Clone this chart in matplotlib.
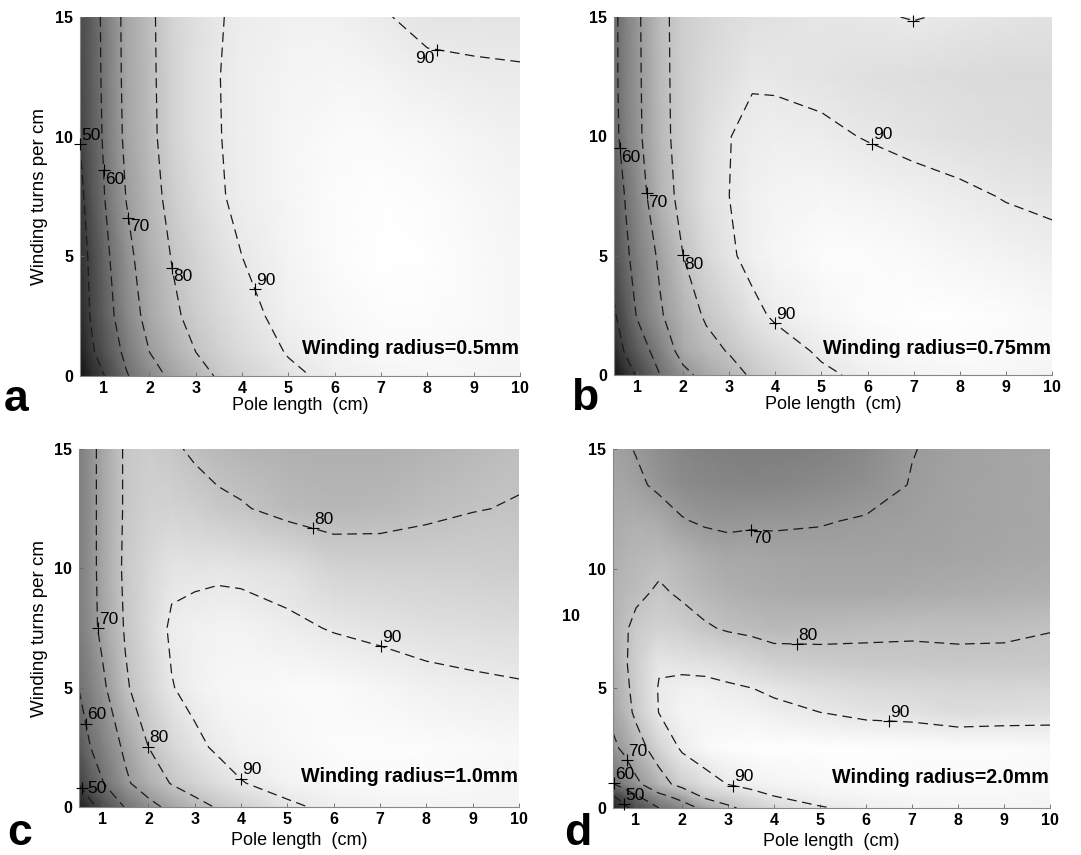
import matplotlib
matplotlib.use('Agg')
import matplotlib.pyplot as plt
import numpy as np
from matplotlib.colors import PowerNorm
from matplotlib.transforms import offset_copy, blended_transform_factory

plt.rcParams['font.family'] = ['Liberation Sans', 'DejaVu Sans']
plt.rcParams['font.weight'] = 'bold'
plt.rcParams['lines.scale_dashes'] = False

# grid of the efficiency maps (%)
pole = [0.5, 0.75, 1, 1.5, 2, 2.5, 3, 3.5, 4, 5, 6, 7, 8, 9, 10]
turns = [0, 1, 2.5, 5, 7.5, 10, 12.5, 15]
turns_d = [0, 0.5, 1, 2.5, 4, 5, 6, 7.5, 9, 10.5, 12, 13.5, 15]

eff_a = [
    [42, 46, 49.5, 59.3, 66, 72, 76.5, 81, 84, 88.7, 91.5, 93, 93.5, 93.5, 93],
    [44, 49, 53, 62, 70, 75.5, 80, 83.5, 86.3, 90.4, 93, 94.5, 94.5, 94, 93.5],
    [46, 50.7, 55.5, 65, 73, 78.5, 82.5, 85.5, 88, 92, 94, 95, 95, 94.5, 93.5],
    [47, 51.5, 57, 67.5, 75, 80.5, 84.5, 87.5, 90, 93, 95, 95.8, 95.5, 94.5, 93.5],
    [48, 54, 59.3, 70.3, 77, 82.5, 86.5, 89.5, 91.2, 93.5, 95, 95.5, 95, 94, 93],
    [50.3, 55.5, 60.5, 72, 78, 84, 87.8, 89.8, 91.5, 93.5, 94.5, 94.5, 94, 93, 92],
    [51.5, 56, 61, 72.5, 78.3, 84.2, 87.8, 89.9, 91.5, 93, 93.5, 93, 91.4, 90.8, 90.5],
    [52, 56, 61.3, 72.7, 78.5, 84.3, 87.5, 89.7, 91, 92, 92, 90.5, 88.5, 88.5, 88.5],
]
eff_b = [
    [42, 46.5, 50.6, 60, 67.5, 73, 77, 81, 84, 88.8, 91.5, 93, 93.5, 93.5, 93],
    [46, 50.7, 55.5, 63.5, 73.5, 77.5, 80.5, 84, 86.8, 91, 93.5, 94.5, 95, 94.5, 94],
    [49, 54.5, 60.5, 69, 76, 81, 84.5, 88.2, 91, 93.5, 95, 95.5, 95.5, 95, 94],
    [52.5, 58.5, 63, 71.5, 80, 85.5, 89, 92, 93.5, 95, 95, 94.5, 93.5, 92.5, 91.5],
    [54.5, 60.5, 65.5, 76, 82.5, 87.5, 90, 92, 93, 93.5, 93, 92, 91, 89.7, 89],
    [57.5, 63.5, 68, 77.5, 83, 87, 89.9, 91, 91.5, 91, 89.7, 88.5, 87.5, 87, 86.5],
    [58, 64, 68.3, 77.8, 83, 86, 87.5, 89.6, 89.3, 88.5, 87.5, 87, 86.5, 86, 86],
    [58, 64, 68.5, 78, 83, 85, 86.5, 87.5, 88, 89, 89.5, 90.2, 89.5, 88.5, 88],
]
eff_c = [
    [44, 48, 52, 60.5, 67, 72.5, 77, 80.7, 83.5, 88.8, 91.5, 92.5, 93, 93, 92.5],
    [50.3, 55, 59.5, 68.5, 75, 80.5, 84, 87, 89.7, 92.5, 94, 94.5, 94.5, 94, 93.5],
    [54.5, 60, 63.5, 71.5, 80, 85, 88.5, 91, 92.5, 94, 95, 95.3, 95, 94.5, 94],
    [60.2, 64, 68, 79, 84.5, 89.7, 92, 93.5, 94, 94.5, 94.5, 93.5, 92, 91.2, 90.6],
    [63, 67, 72, 80.7, 86, 91, 92, 92.5, 92.5, 91.2, 89.6, 88.5, 87.5, 87, 86.5],
    [63.5, 67.5, 72.5, 81.5, 85.5, 88.5, 88.7, 89, 88.7, 87.5, 84, 83.5, 83.3, 83, 82.5],
    [63.5, 67.5, 72.5, 81, 83.5, 84, 83, 81.5, 80.6, 78, 77, 77.5, 78.8, 79.8, 80.3],
    [63.5, 67.5, 72.5, 81, 82.5, 81, 79, 77.5, 76.5, 75.5, 75, 75, 76, 77.5, 79],
]
eff_d = [
    [44, 48.5, 52, 60, 66, 72, 78.5, 82.5, 85.5, 89.5, 91.5, 92.5, 93, 93, 93],
    [49.5, 54, 59, 68, 73, 82, 84.5, 87.5, 90, 92.5, 93.5, 94, 94, 94, 93.5],
    [59.5, 64, 68, 76.5, 83, 87, 90.2, 92, 93, 94, 94.5, 94.5, 94.5, 94.5, 94],
    [68.5, 71.5, 76.5, 84, 91, 94, 95, 95.5, 95.5, 95.5, 95.5, 95.3, 95, 95, 94.5],
    [72, 77, 81.5, 90.2, 93, 93.5, 93, 92.5, 91.5, 90, 88.5, 88, 86.5, 87, 87.5],
    [73.5, 78, 82.5, 90.5, 92, 92, 91, 90.1, 89, 87, 86, 85.5, 85, 85, 85],
    [74.5, 79, 83, 89.3, 88.5, 88, 87, 85.5, 83.5, 82.5, 81.8, 81.5, 81.3, 81.2, 81.5],
    [76, 79, 82, 84, 83, 80.8, 79.3, 78.5, 77.5, 78, 78.8, 79.2, 79, 79.2, 79.8],
    [76, 77.5, 78.5, 81, 79, 77, 75.5, 74.5, 74, 73.5, 73.5, 74, 74.5, 75, 75.5],
    [75, 76, 77, 78, 76.5, 74.5, 73, 73, 72.5, 72, 72, 72, 72.5, 73, 73.5],
    [74, 74.5, 75, 74, 70.5, 69, 68.5, 69, 69, 69.6, 70.5, 71.3, 72, 72.5, 73],
    [73, 72.5, 71.5, 68.5, 66.5, 65.5, 65, 64.8, 65, 66, 67.5, 70.3, 72, 72.5, 73],
    [72, 71, 69.6, 67, 65, 64, 63.5, 63.3, 63.3, 64, 66, 69.8, 71.5, 72.5, 73],
]

levels = [50, 60, 70, 80, 90]

# contour label spots: level, x, y, side of the text
spots_a = [(50, 0.5, 9.7, 'ur'), (60, 1.0, 8.6, 'lr'), (70, 1.5, 6.6, 'lr'),
           (80, 2.4, 4.5, 'lr'), (90, 4.1, 3.5, 'ur'), (90, 8.2, 13.6, 'll')]
spots_b = [(60, 0.6, 9.5, 'lr'), (70, 1.15, 7.6, 'lr'), (80, 1.95, 5.0, 'lr'),
           (90, 6.1, 9.7, 'ur'), (90, 3.9, 2.0, 'ur'), (90, 7.0, 14.9, None)]
spots_c = [(50, 0.6, 0.85, 'r'), (60, 0.69, 3.5, 'ur'), (70, 0.89, 7.5, 'ur'),
           (80, 1.91, 2.47, 'ur'), (90, 3.9, 1.0, 'ur'), (80, 5.5, 11.27, 'ur'),
           (90, 7.0, 6.6, 'ur')]
spots_d = [(70, 3.5, 11.84, 'lr'), (80, 4.5, 6.69, 'ur'), (90, 6.5, 3.55, 'ur'),
           (90, 3.1, 0.84, 'ur'), (70, 0.82, 2.02, 'ur'), (60, 0.53, 1.04, 'ur'),
           (50, 0.79, 0.28, 'ur')]

radius_labels = ['Winding radius=0.5mm', 'Winding radius=0.75mm',
                 'Winding radius=1.0mm', 'Winding radius=2.0mm']
panel_letters = ['a', 'b', 'c', 'd']

W, H = 1081, 855
fig = plt.figure(figsize=(W / 100, H / 100), dpi=100)

# axes boxes in pixels: left, top, right, bottom
boxes = [(80, 17, 520, 376), (614, 17, 1052, 375),
         (79, 449, 519, 807), (613, 449, 1050, 808)]

side_fmt = {'ur': ('left', 'bottom', 1, 1), 'lr': ('left', 'top', 1, -1),
            'll': ('right', 'top', -2, -1), 'r': ('left', 'center', 4, 0)}


def snap(ax, cs, lev, x, y):
    # nearest point on the contour of one level, in screen space
    k = list(cs.levels).index(lev)
    tr = ax.transData
    p = tr.transform((x, y))
    best = None
    for seg in cs.allsegs[k]:
        s = tr.transform(seg)
        a, d = s[:-1], s[1:] - s[:-1]
        L = (d ** 2).sum(1)
        L[L == 0] = 1e-9
        t = np.clip(((p - a) * d).sum(1) / L, 0, 1)
        q = a + d * t[:, None]
        dist = ((q - p) ** 2).sum(1)
        i = dist.argmin()
        if best is None or dist[i] < best[0]:
            best = (dist[i], q[i])
    return tr.inverted().transform(best[1])


def draw_panel(ax, tv, eff, spots):
    P, T = np.meshgrid(pole, tv)
    Z = np.array(eff)
    ax.pcolormesh(P, T, Z, shading='gouraud', cmap='gray',
                  norm=PowerNorm(0.8, vmin=40, vmax=96))
    cs = ax.contour(P, T, Z, levels=levels, colors='#1a1a1a', linewidths=0.9,
                    linestyles=[(0, (7, 4))])
    ax.set_xlim(0.5, 10)
    ax.set_ylim(0, 15)
    for lev, x, y, side in spots:
        x0, y0 = snap(ax, cs, lev, x, y)
        ax.plot(x0, y0, '+', color='k', ms=8, mew=0.8, zorder=5, clip_on=False)
        if side is None:
            continue
        ha, va, dx, dy = side_fmt[side]
        ax.text(x0, y0, '%d' % lev, ha=ha, va=va, fontsize=12.5,
                fontweight='normal', zorder=6,
                transform=offset_copy(ax.transData, fig=fig, x=dx, y=dy, units='points'))


data = [(turns, eff_a, spots_a), (turns, eff_b, spots_b),
        (turns, eff_c, spots_c), (turns_d, eff_d, spots_d)]

axes = []
for i, (l, t, r, b) in enumerate(boxes):
    ax = fig.add_axes([l / W, 1 - b / H, (r - l) / W, (b - t) / H])
    axes.append(ax)
    tv, eff, spots = data[i]
    draw_panel(ax, tv, eff, spots)
    ax.set_xticks(range(1, 11))
    ax.set_yticks([0, 5, 10, 15])
    ax.tick_params(direction='in', length=3, width=0.6, color='#666',
                   labelsize=11.5, pad=3.5)
    ax.tick_params(axis='y', pad=5)
    for s in ['top', 'right']:
        ax.spines[s].set_visible(False)
    for s in ['left', 'bottom']:
        ax.spines[s].set_color('#888')
        ax.spines[s].set_linewidth(0.8)
    ax.set_xlabel('Pole length  (cm)', fontsize=13,
                  labelpad=1 if i < 2 else 4)
    ax.text(0.998, 0.06 if i < 2 else 0.07, radius_labels[i],
            transform=ax.transAxes, ha='right', va='baseline',
            fontsize=14.2, fontweight='bold')

axes[0].set_ylabel('Winding turns per cm', fontsize=13.5, labelpad=5)
axes[2].set_ylabel('Winding turns per cm', fontsize=13.5, labelpad=4)

# stray tick text on panel d
axes[3].text(-0.075, 8, '10', fontsize=11.5, ha='right', va='center',
             transform=blended_transform_factory(axes[3].transAxes, axes[3].transData))

letter_xy = [(4, 411), (571, 410), (7, 845), (564, 845)]
for letter, (px, py) in zip(panel_letters, letter_xy):
    fig.text(px / W, 1 - py / H, letter, fontsize=32, fontweight='bold',
             ha='left', va='baseline')

fig.savefig('out.png', dpi=100)
